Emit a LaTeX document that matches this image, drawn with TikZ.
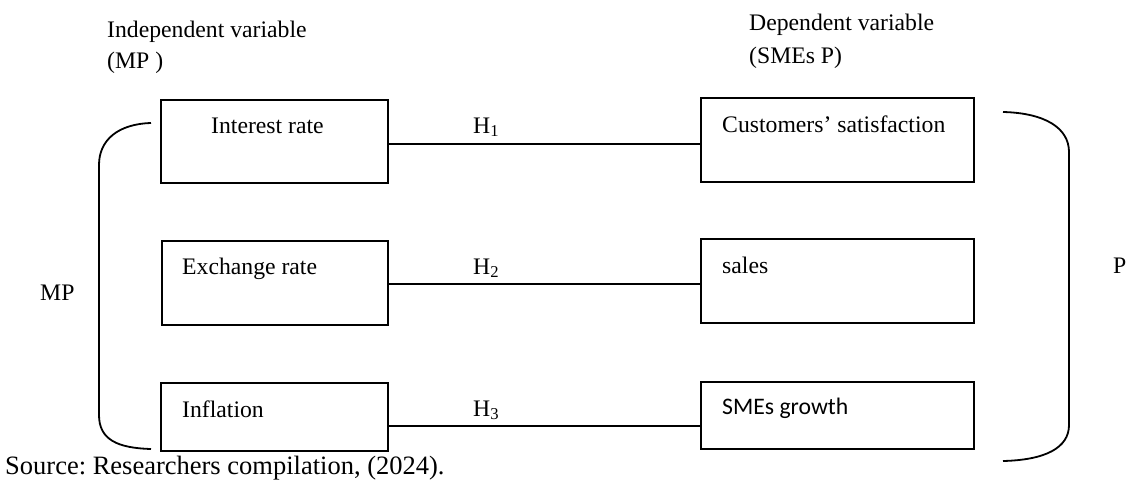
\documentclass[tikz,border=0pt]{standalone}
\usepackage{fontspec}
\setmainfont{Liberation Serif}
\newfontfamily\calibrifont{Carlito}
\begin{document}
\frenchspacing
\begin{tikzpicture}[x=1pt,y=-1pt,
  box/.style={draw, line width=1.8pt, inner sep=0, minimum width=#1},
  box/.default=227pt,
  lbl/.style={anchor=base west, inner sep=0, font=\fontsize{23.7}{28}\selectfont},
  conn/.style={line width=1.5pt},
  brk/.style={line width=1.8pt}]
\useasboundingbox (0,0) rectangle (1129,480);

% headings
\node[lbl] (indep1) at (107,37) {Independent variable};
\node[lbl] (indep2) at (107,68) {(MP )};
\node[lbl] (dep1) at (749,30) {Dependent variable};
\node[lbl] (dep2) at (749,63) {(SMEs P)};

% left boxes
\node[box=227pt, minimum height=83pt] (l1) at (274.5,141.5) {};
\node[box=226pt, minimum height=84pt] (l2) at (275,283) {};
\node[box=227pt, minimum height=68pt] (l3) at (274.5,417) {};
% right boxes
\node[box=273pt, minimum height=84pt] (r1) at (837.5,140) {};
\node[box=273pt, minimum height=84pt] (r2) at (837.5,281) {};
\node[box=273pt, minimum height=67pt] (r3) at (837.5,415.5) {};

% box texts
\node[lbl] (tl1) at (211,133) {Interest rate};
\node[lbl] (tl2) at (182,274) {Exchange rate};
\node[lbl] (tl3) at (182,417) {Inflation};
\node[lbl] (tr1) at (722,132) {Customers’ satisfaction};
\node[lbl] (tr2) at (722,273) {sales};
\node[lbl, font=\fontsize{23.7}{28}\calibrifont] (tr3) at (722,414) {SMEs growth};

% connectors
\draw[conn] ([yshift=-2.5pt]l1.east) -- ([yshift=-2.5pt]l1.east -| r1.west);
\draw[conn] ([yshift=-1pt]l2.east) -- ([yshift=-1pt]l2.east -| r2.west);
\draw[conn] ([yshift=-9pt]l3.east) -- ([yshift=-9pt]l3.east -| r3.west);

% hypothesis labels
\node[lbl] (h1) at (473,133) {H\textsubscript{1}};
\node[lbl] (h2) at (473,274) {H\textsubscript{2}};
\node[lbl] (h3) at (473,416) {H\textsubscript{3}};

% brackets
\draw[brk] (151,123) .. controls (118,124) and (99,140) .. (99,165)
  -- (99,415) .. controls (99,440) and (118,448) .. (151,449);
\draw[brk] (1003,112) .. controls (1045,113) and (1069,128) .. (1069,152)
  -- (1069,425) .. controls (1069,448) and (1045,460) .. (1003,461);

\node[lbl] (mp) at (40,300) {MP};
\node[lbl] (p) at (1113,273) {P};

% source
\node[lbl, font=\fontsize{26.5}{30}\selectfont] (src) at (5,474) {Source: Researchers compilation, (2024).};
\end{tikzpicture}
\end{document}
